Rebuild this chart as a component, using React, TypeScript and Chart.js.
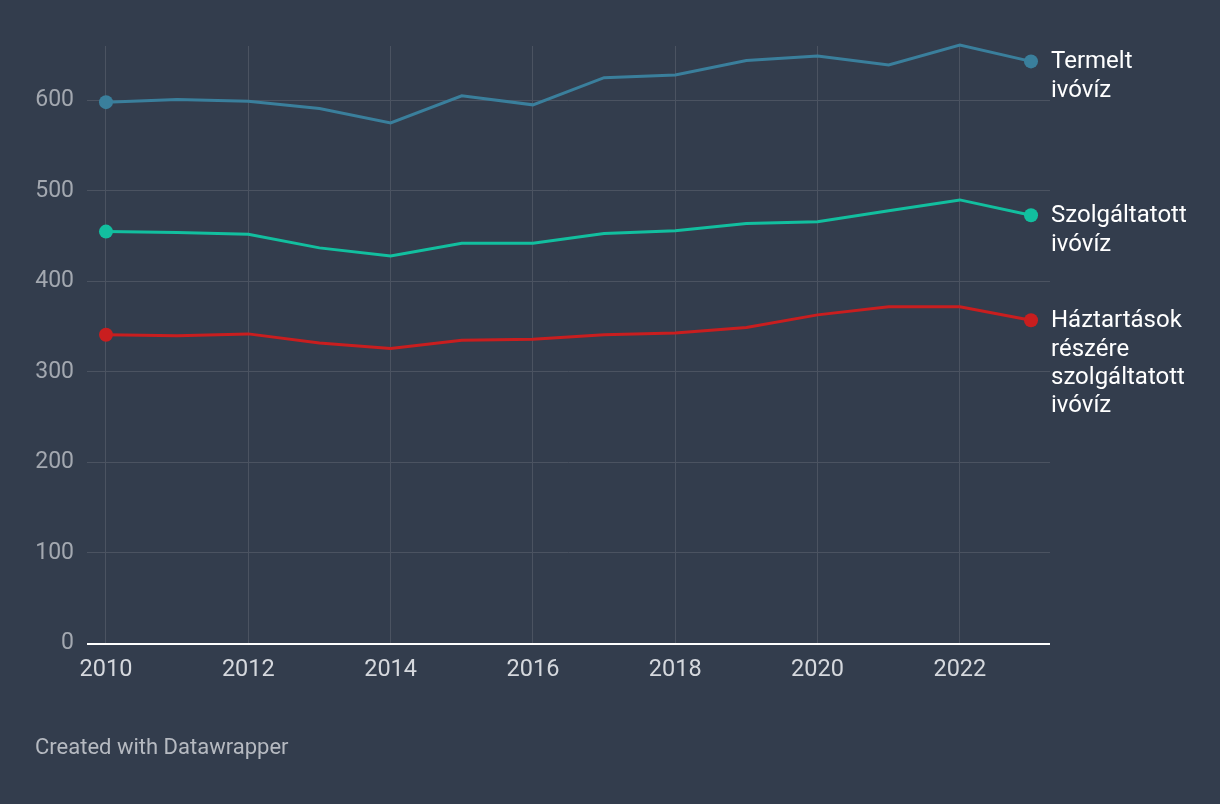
import React, { useEffect, useRef } from "react";
import { Chart, registerables } from "chart.js";

Chart.register(...registerables);

const years = [2010, 2011, 2012, 2013, 2014, 2015, 2016, 2017, 2018, 2019, 2020, 2021, 2022, 2023];
const termelt = [598, 601, 599, 591, 575, 605, 595, 625, 628, 644, 649, 639, 661, 643];
const szolgaltatott = [455, 454, 452, 437, 428, 442, 442, 453, 456, 464, 466, 478, 490, 473];
const haztartasok = [341, 340, 342, 332, 326, 335, 336, 341, 343, 349, 363, 372, 372, 357];

const seriesNames = [["Termelt", "ivóvíz"], ["Szolgáltatott", "ivóvíz"], ["Háztartások", "részére", "szolgáltatott", "ivóvíz"]];
const seriesColors = ["#3a7f9c", "#12bf9f", "#c91e1f"];
const xTicks = [2010, 2012, 2014, 2016, 2018, 2020, 2022];
const yTicks = [0, 100, 200, 300, 400, 500, 600];

const BG = "#333d4d";
const GRID = "#4b5361";
const FONT = "Roboto";

const endLabels = {
  id: "endLabels",
  afterDatasetsDraw(chart: any) {
    const ctx = chart.ctx;
    ctx.save();
    ctx.font = `24px ${FONT}`;
    ctx.fillStyle = "#ffffff";
    ctx.textBaseline = "middle";
    ctx.textAlign = "left";
    chart.data.datasets.forEach((ds: any, i: number) => {
      const meta = chart.getDatasetMeta(i);
      const pt = meta.data[meta.data.length - 1];
      const lines = seriesNames[i];
      lines.forEach((ln: string, j: number) => {
        ctx.fillText(ln, pt.x + 20, pt.y + 1 + j * 28.3);
      });
    });
    ctx.restore();
  },
};

export default function App() {
  const ref = useRef<HTMLCanvasElement>(null);
  useEffect(() => {
    document.body.style.margin = "0";
    document.body.style.background = BG;
    const lastIdx = years.length - 1;
    const mk = (label: string, data: number[], color: string) => ({
      label,
      data: years.map((y, i) => ({ x: y, y: data[i] })),
      borderColor: color,
      backgroundColor: color,
      borderWidth: 3,
      pointRadius: (c: any) => (c.dataIndex === 0 || c.dataIndex === lastIdx ? 7 : 0),
      pointHoverRadius: 0,
      pointBorderWidth: 0,
      tension: 0,
      clip: false as any,
    });
    const chart = new Chart(ref.current!, {
      type: "line",
      data: {
        datasets: [
          mk("Termelt ivóvíz", termelt, seriesColors[0]),
          mk("Szolgáltatott ivóvíz", szolgaltatott, seriesColors[1]),
          mk("Háztartások részére szolgáltatott ivóvíz", haztartasok, seriesColors[2]),
        ],
      },
      options: {
        animation: false,
        responsive: false,
        events: [],
        layout: { padding: { left: 0, right: 170, top: 46, bottom: 120 } },
        plugins: { legend: { display: false }, tooltip: { enabled: false } },
        scales: {
          x: {
            type: "linear",
            min: 2009.733,
            max: 2023.267,
            afterBuildTicks: (s: any) => {
              s.ticks = xTicks.map((v) => ({ value: v }));
            },
            afterFit: (s: any) => {
              s.height = 40.5;
            },
            grid: { color: GRID, lineWidth: 1, drawTicks: false },
            border: { display: false },
            ticks: {
              color: "#d5d8dd",
              font: { family: FONT, size: 23.5 },
              padding: 13,
              callback: (v: any) => String(v),
              maxRotation: 0,
              autoSkip: false,
            },
          },
          y: {
            min: 0,
            max: 660,
            afterBuildTicks: (s: any) => {
              s.ticks = yTicks.map((v) => ({ value: v }));
            },
            afterFit: (s: any) => {
              s.width = 87;
            },
            grid: {
              color: (c: any) => (c.tick && c.tick.value === 0 ? "#ffffff" : GRID),
              lineWidth: (c: any) => (c.tick && c.tick.value === 0 ? 2 : 1),
              drawTicks: false,
            },
            border: { display: false },
            ticks: {
              color: "#a3a8b0",
              font: { family: FONT, size: 23 },
              padding: 13,
              callback: (v: any) => String(v),
            },
          },
        },
      },
      plugins: [endLabels],
    });
    return () => chart.destroy();
  }, []);
  return (
    <div style={{ position: "relative", width: 1220, height: 804, background: BG, overflow: "hidden" }}>
      <canvas ref={ref} width={1220} height={804} style={{ display: "block" }} />
      <div
        style={{
          position: "absolute",
          left: 35,
          top: 735.5,
          fontFamily: FONT,
          fontSize: 22,
          lineHeight: "22px",
          color: "#b6bac1",
          whiteSpace: "nowrap",
        }}
      >
        Created with Datawrapper
      </div>
    </div>
  );
}
